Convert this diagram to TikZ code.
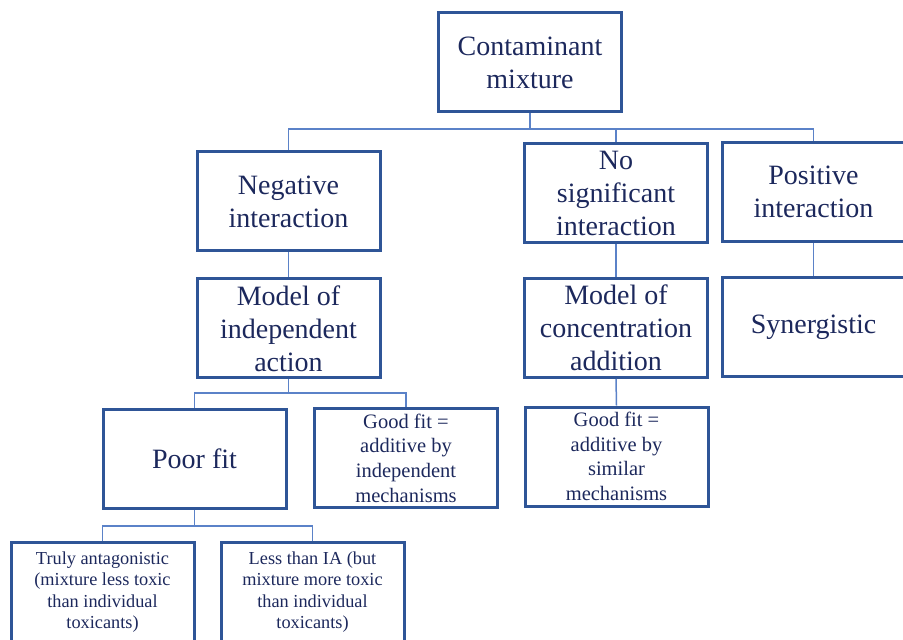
\documentclass[tikz,border=0pt]{standalone}
\usepackage{fontspec}
\setmainfont{Liberation Serif}
\definecolor{boxblue}{RGB}{47,85,151}
\definecolor{linkblue}{RGB}{91,130,200}
\definecolor{textnavy}{RGB}{28,40,92}

\begin{document}
\begin{tikzpicture}[x=0.5pt, y=-0.5pt,
    box/.style={draw=boxblue, line width=1.5pt, text=textnavy, align=center,
                minimum width=91.5pt, minimum height=49.5pt, inner sep=0pt},
    bigbox/.style={box, font=\fontsize{14}{16.5}\selectfont},
    midbox/.style={box, font=\fontsize{10.25}{12.3}\selectfont},
    smallbox/.style={box, font=\fontsize{9.15}{10.65}\selectfont},
    link/.style={draw=linkblue, line width=0.75pt}]

	\clip (0,0) rectangle (903,640);

	% top level
	\node[bigbox] (mix) at (530,62.5) {Contaminant\\mixture};

	% interaction type
	\node[bigbox] (neg) at (288.5,201.5) {Negative\\interaction};
	\node[bigbox] (nosig) at (616,193.5) {No\\significant\\interaction};
	\node[bigbox] (pos) at (813.5,192) {Positive\\interaction};

	% models
	\node[bigbox] (indep) at (288.5,328.5) {Model of\\independent\\action};
	\node[bigbox] (conc) at (616,328) {Model of\\concentration\\addition};
	\node[bigbox] (syn) at (813.5,327) {Synergistic};

	% fit
	\node[bigbox] (poor) at (194.5,458.5) {Poor fit};
	\node[midbox] (goodind) at (406,458) {Good fit =\\additive by\\independent\\mechanisms};
	\node[midbox] (goodsim) at (616.5,456.5) {Good fit =\\additive by\\similar\\mechanisms};

	% outcome of poor fit
	\node[smallbox] (truly) at (102.5,592) {Truly antagonistic\\(mixture less toxic\\than individual\\toxicants)};
	\node[smallbox] (less) at (312.5,592) {Less than IA (but\\mixture more toxic\\than individual\\toxicants)};

	% connectors
	\coordinate (topbus) at (530,129);
	\draw[link] (mix.south) -- (topbus);
	\draw[link] (neg.north) |- (topbus) -| (pos.north);
	\draw[link] (nosig.north) -- (nosig.north |- topbus);

	\draw[link] (neg.south) -- (indep.north);
	\draw[link] (nosig.south) -- (conc.north);
	\draw[link] (pos.south) -- (syn.north);
	\draw[link] (conc.south) -- (goodsim.north);

	\coordinate (indbus) at (288.5,393);
	\draw[link] (indep.south) -- (indbus);
	\draw[link] (poor.north) |- (indbus) -| (goodind.north);

	\coordinate (poorbus) at (194.5,526);
	\draw[link] (poor.south) -- (poorbus);
	\draw[link] (truly.north) |- (poorbus) -| (less.north);

\end{tikzpicture}
\end{document}
